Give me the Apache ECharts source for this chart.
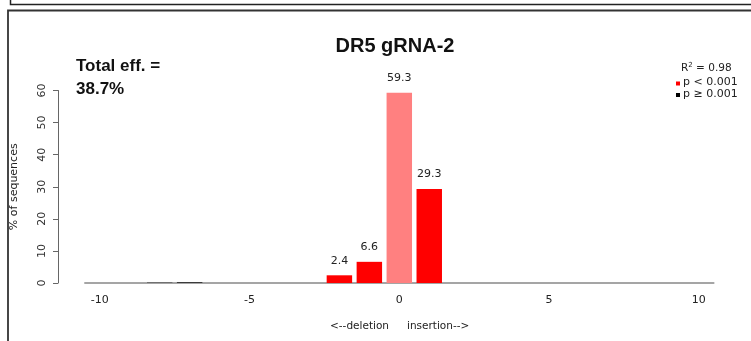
<!DOCTYPE html>
<html>
<head>
<meta charset="utf-8">
<script src="https://cdn.jsdelivr.net/npm/echarts@6/dist/echarts.min.js"></script>
<style>
html,body{margin:0;padding:0;background:#fff;}
#c{width:751px;height:341px;}
</style>
</head>
<body>
<div id="c"></div>
<script>
// Data
var categories = ['-10','-9','-8','-7','-6','-5','-4','-3','-2','-1','0','1','2','3','4','5','6','7','8','9','10'];
var values     = [0, 0, 0.1, 0.2, 0, 0, 0, 0, 2.4, 6.6, 59.3, 29.3, 0, 0, 0, 0, 0, 0, 0, 0, 0];
// significance group: 'sig' = p < 0.001, 'ns' = p >= 0.001, 'wt' = unmodified
var groups     = ['ns','ns','ns','ns','ns','ns','ns','ns','sig','sig','wt','sig','ns','ns','ns','ns','ns','ns','ns','ns','ns'];
var labelled   = ['-2','-1','0','1'];
var yTicks     = [0, 10, 20, 30, 40, 50, 60];
var titleText  = 'DR5 gRNA-2';
var effText    = ['Total eff. =', '38.7%'];
var r2Text     = '0.98';
var legendItems = ['p < 0.001', 'p \u2265 0.001'];
var xNames     = ['<--deletion', 'insertion-->'];

var colorMap = {sig: '#FF0000', ns: '#000000', wt: '#FF8080'};

var chart = echarts.init(document.getElementById('c'), null, {renderer: 'canvas'});

var seriesData = values.map(function (v, i) {
  var show = labelled.indexOf(categories[i]) >= 0;
  return {
    value: v,
    itemStyle: {color: colorMap[groups[i]]},
    label: {show: show}
  };
});

var option = {
  animation: false,
  backgroundColor: '#fff',
  grid: {left: 84.8, right: 37.2, top: 90.5, bottom: 58, containLabel: false},
  xAxis: {
    type: 'category',
    data: categories,
    axisLine: {lineStyle: {color: '#888', width: 1.5}},
    axisTick: {
      alignWithLabel: true,
      length: 6,
      lineStyle: {color: '#555'},
      interval: function (idx, val) { return Number(val) % 5 === 0; }
    },
    axisLabel: {
      interval: function (idx, val) { return Number(val) % 5 === 0; },
      color: '#222',
      fontSize: 11,
      fontFamily: 'DejaVu Sans',
      margin: 12
    },
    splitLine: {show: false}
  },
  yAxis: {
    type: 'value',
    min: 0,
    max: 60,
    interval: 10,
    offset: 26.8,
    name: '% of sequences',
    nameLocation: 'middle',
    nameGap: 38,
    nameTextStyle: {color: '#222', fontSize: 11, fontFamily: 'DejaVu Sans'},
    axisLine: {show: true, lineStyle: {color: '#666', width: 1}},
    axisTick: {show: true, length: 5, lineStyle: {color: '#666'}},
    axisLabel: {
      rotate: 90,
      color: '#333',
      fontSize: 11,
      fontFamily: 'DejaVu Sans',
      margin: 10
    },
    splitLine: {show: false}
  },
  series: [{
    type: 'bar',
    data: seriesData,
    barCategoryGap: '15%',
    label: {
      position: 'top',
      distance: 9,
      color: '#222',
      fontSize: 11,
      fontFamily: 'DejaVu Sans'
    }
  }],
  graphic: [
    {type: 'rect', shape: {x: 10.5, y: -10, width: 800, height: 14.5},
     style: {fill: 'none', stroke: '#222', lineWidth: 1.5}, silent: true},
    {type: 'rect', shape: {x: 8, y: 10.5, width: 800, height: 400},
     style: {fill: 'none', stroke: '#333', lineWidth: 1.8}, silent: true},
    {type: 'text', x: 395, y: 36,
     style: {text: titleText, textAlign: 'center', fontSize: 20, fontWeight: 'bold', fontFamily: 'Liberation Sans', fill: '#111'}},
    {type: 'text', x: 76, y: 58,
     style: {text: effText[0], fontSize: 17, fontWeight: 'bold', fontFamily: 'Liberation Sans', fill: '#111'}},
    {type: 'text', x: 76, y: 81,
     style: {text: effText[1], fontSize: 17, fontWeight: 'bold', fontFamily: 'Liberation Sans', fill: '#111'}},
    {type: 'text', x: 681, y: 62,
     style: {
       text: '{a|R}{s|2}{a| = ' + r2Text + '}',
       rich: {
         a: {fontSize: 10.5, fontFamily: 'DejaVu Sans', fill: '#222', color: '#222'},
         s: {fontSize: 7, fontFamily: 'DejaVu Sans', fill: '#222', color: '#222', verticalAlign: 'top', padding: [0, 0, 6, 0]}
       }
     }},
    {type: 'rect', shape: {x: 676, y: 81.5, width: 4, height: 4}, style: {fill: '#FF0000'}},
    {type: 'text', x: 683, y: 77,
     style: {text: legendItems[0], fontSize: 11, fontFamily: 'DejaVu Sans', fill: '#222'}},
    {type: 'rect', shape: {x: 676, y: 93, width: 4, height: 4}, style: {fill: '#000000'}},
    {type: 'text', x: 683, y: 88.5,
     style: {text: legendItems[1], fontSize: 11, fontFamily: 'DejaVu Sans', fill: '#222'}},
    {type: 'text', x: 389, y: 321,
     style: {text: xNames[0], textAlign: 'right', fontSize: 10.5, fontFamily: 'DejaVu Sans', fill: '#222'}},
    {type: 'text', x: 407, y: 321,
     style: {text: xNames[1], textAlign: 'left', fontSize: 10.5, fontFamily: 'DejaVu Sans', fill: '#222'}}
  ]
};
chart.setOption(option);
</script>
</body>
</html>
